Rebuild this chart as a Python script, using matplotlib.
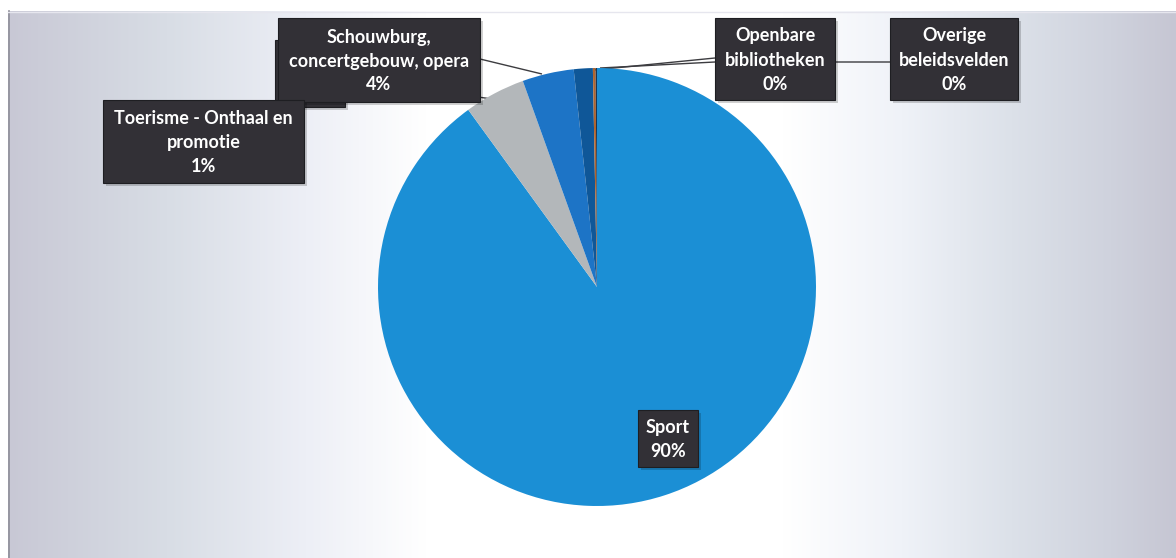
import numpy as np
import matplotlib
matplotlib.use("Agg")
import matplotlib.pyplot as plt
from matplotlib.patches import Rectangle

plt.rcParams['font.family'] = ['Lato', 'DejaVu Sans']

# Share of budget per policy field (%), clockwise from 12 o'clock
categories = ["Sport", "", "Schouwburg,\nconcertgebouw, opera",
              "Toerisme - Onthaal en\npromotie", "Openbare\nbibliotheken",
              "Overige\nbeleidsvelden"]
values = [90.0, 4.5, 3.8, 1.4, 0.2, 0.1]
colors = ["#1b8fd5", "#b3b7ba", "#1d74c6", "#0f5798", "#b0652e", "#1d3550"]

W, H = 1176, 558
fig = plt.figure(figsize=(W / 100, H / 100), dpi=100)
ax = fig.add_axes([0, 0, 1, 1])
ax.set_xlim(0, W)
ax.set_ylim(0, H)
ax.set_aspect('equal')
ax.axis('off')


def Y(y):
    # convert a top-down pixel row into axis units
    return H - y


# horizontal background gradient: lavender-grey at the sides, white in the middle
stops_x = [0, 60, 160, 300, 420, 780, 900, 1010, 1110, 1176]
stops_c = np.array([
    [200, 200, 213], [206, 208, 219], [216, 221, 229], [237, 239, 246],
    [255, 255, 255], [255, 255, 255], [239, 242, 248], [220, 225, 233],
    [207, 210, 221], [198, 198, 211]]) / 255.0
xs = np.arange(W)
grad = np.stack([np.interp(xs, stops_x, stops_c[:, k]) for k in range(3)], axis=-1)
img = np.tile(grad[None, :, :], (H, 1, 1))
ax.imshow(img, extent=[8, W, 0, Y(11)], aspect='auto', zorder=0)
ax.plot([8.5, 8.5], [0, Y(11)], color="#8e8e98", lw=1.2, zorder=1)
ax.plot([8, W], [Y(11.5), Y(11.5)], color="#e6e6ee", lw=1.0, zorder=1)

# pie
cx, cy, r = 597, Y(287), 219
wedges, _ = ax.pie(values, colors=colors, startangle=90, counterclock=False,
                   center=(cx, cy), radius=r, frame=True,
                   wedgeprops=dict(linewidth=0))
for w in wedges:
    w.set_zorder(3)
ax.set_xlim(0, W)
ax.set_ylim(0, H)
ax.axis('off')

line_kw = dict(color="#3c3c40", lw=1.0, zorder=2, solid_capstyle='butt')
box_color = "#323036"
txt_kw = dict(color="white", fontsize=13, fontweight='bold', ha='center',
              va='center', linespacing=1.5, zorder=7)


def label_box(x0, x1, y0, y1, text, z=5):
    ax.add_patch(Rectangle((x0 + 3, Y(y1) - 3), x1 - x0, y1 - y0,
                           facecolor="#000000", alpha=0.18, lw=0, zorder=z - 0.5))
    ax.add_patch(Rectangle((x0, Y(y1)), x1 - x0, y1 - y0,
                           facecolor=box_color, edgecolor="#1e1e22", lw=0.8, zorder=z))
    if text:
        ax.text((x0 + x1) / 2, Y((y0 + y1) / 2 + 1), text, **txt_kw)


def pct(v):
    return f"{round(v)}%"


# leader lines
ax.plot([478, 492], [Y(97), Y(99)], **line_kw)
ax.plot([480, 542], [Y(59), Y(74)], **line_kw)
ax.plot([715, 594], [Y(58), Y(70)], **line_kw)
ax.plot([890, 715, 600], [Y(62), Y(62), Y(68)], **line_kw)

# data labels
label_box(275, 345, 40, 107, "", z=4)
label_box(278, 480, 18, 102, f"{categories[2]}\n{pct(values[2])}")
label_box(103, 304, 100, 183, f"{categories[3]}\n{pct(values[3])}")
label_box(715, 835, 18, 100, f"{categories[4]}\n{pct(values[4])}")
label_box(890, 1018, 18, 100, f"{categories[5]}\n{pct(values[5])}")
label_box(638, 698, 410, 467, f"{categories[0]}\n{pct(values[0])}")

fig.savefig("out.png", dpi=100, facecolor="white")
